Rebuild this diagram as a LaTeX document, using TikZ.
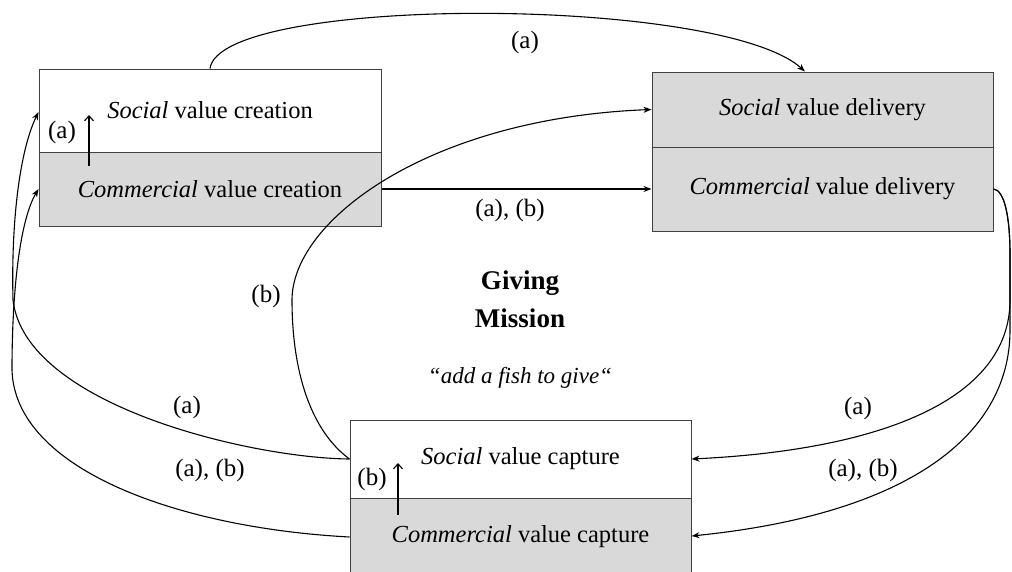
\documentclass[tikz,border=0pt]{standalone}
\usepackage{fontspec}
\setmainfont{Liberation Serif}
\usetikzlibrary{arrows.meta}
\definecolor{boxgray}{HTML}{D9D9D9}
\definecolor{edgegray}{HTML}{404040}
\begin{document}
\begin{tikzpicture}[x=1pt,y=-1pt,
  half/.style={draw=edgegray, line width=1pt, inner sep=0pt, font=\fontsize{24.5}{28}\selectfont},
  shaded/.style={half, fill=boxgray},
  conn/.style={line width=1.1pt, -{Stealth[length=8pt,width=6pt]}},
  innerarrow/.style={line width=1.1pt, -{Straight Barb[length=5pt,width=9pt]}},
  lbl/.style={font=\fontsize{25}{29}\selectfont, inner sep=0pt},
  title/.style={font=\fontsize{27}{32}\selectfont\bfseries, inner sep=0pt}
]
\useasboundingbox (0,0) rectangle (1012,571);
\clip (0,0) rectangle (1012,571);
\fill[white] (0,0) rectangle (1012,571);

% creation box
\node[half, minimum width=342pt, minimum height=83pt] (SC) at (210,110.5) {\textit{Social} value creation};
\node[shaded, minimum width=342pt, minimum height=74pt] (CC) at (210,189) {\textit{Commercial} value creation};
% delivery box
\node[shaded, minimum width=341pt, minimum height=75pt] (SD) at (822.5,109.5) {\textit{Social} value delivery};
\node[shaded, minimum width=341pt, minimum height=84pt] (CD) at (822.5,189) {\textit{Commercial} value delivery};
% capture box
\node[half, minimum width=341pt, minimum height=78pt] (SP) at (520.5,459) {\textit{Social} value capture};
\node[shaded, minimum width=341pt, minimum height=78pt] (CP) at (520.5,537) {\textit{Commercial} value capture};

% centre text
\node[title] (giving) at (520,283) {Giving};
\node[title] (mission) at (520,318) {Mission};
\node[lbl, font=\fontsize{23}{27}\selectfont\itshape] (motto) at (520,378) {“add a fish to give“};

% inner arrows
\coordinate (ia1) at (89,166);
\coordinate (ia2) at (89,115);
\draw[innerarrow] (ia1) -- (ia2);
\node[lbl] (la1) at (62,132) {(a)};
\coordinate (ib1) at (398,515);
\coordinate (ib2) at (398,463);
\draw[innerarrow] (ib1) -- (ib2);
\node[lbl] (lb1) at (372,479) {(b)};

% top arc
\draw[conn] (SC.north) .. controls (220,-5) and (720,-5) .. ([xshift=-17.5pt]SD.north);
\node[lbl] (lt) at (525,42) {(a)};

% straight
\draw[conn] (CC.east) -- (CD.west);
\node[lbl] (ls) at (510,210) {(a), (b)};

% (b) curve from capture to social delivery
\draw[conn] (SP.west) .. controls (310,430) and (292,370) .. (292,300)
  .. controls (292,220) and (430,118) .. (SD.west);
\node[lbl] (lbb) at (266,296) {(b)};

% left curves
\draw[conn] (SP.west) .. controls (250,458) and (25,405) .. (13,300)
  .. controls (11,220) and (20,150) .. ([yshift=-1.5pt]SC.west);
\node[lbl] (lla) at (187,407) {(a)};
\draw[conn] (CP.west) .. controls (180,528) and (15,470) .. (12,370)
  .. controls (12,290) and (20,220) .. (CC.west);
\node[lbl] (llab) at (210,470) {(a), (b)};

% right curves
\draw[conn] (CD.east) .. controls (1004,190) and (1010,215) .. (1010,255) -- (1010,300)
  .. controls (1010,400) and (880,450) .. (SP.east);
\node[lbl] (lra) at (858,408) {(a)};
\draw[conn] (CD.east) .. controls (1004,190) and (1010,215) .. (1010,255) -- (1010,330)
  .. controls (1010,440) and (900,515) .. ([yshift=1pt]CP.west -| CP.east);
\node[lbl] (lrab) at (863,470) {(a), (b)};
\end{tikzpicture}
\end{document}
